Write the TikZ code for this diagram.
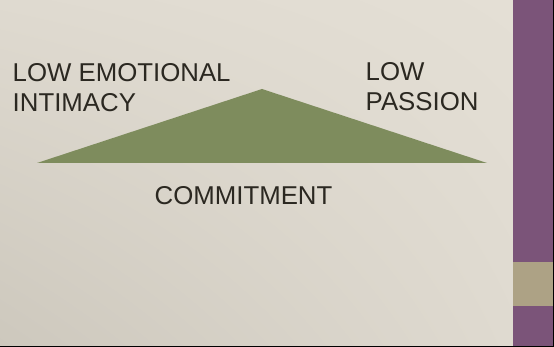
\documentclass[tikz,border=0pt]{standalone}
\usepackage{fontspec}
\setmainfont{Liberation Sans}
\usetikzlibrary{shadings}
\definecolor{bglight}{HTML}{E4DFD5}
\definecolor{bgmid}{HTML}{DFDAD0}
\definecolor{bgdark}{HTML}{CDC8BD}
\definecolor{textc}{HTML}{2B2821}
\definecolor{greenc}{HTML}{7E8C5D}
\definecolor{purplec}{HTML}{7B5479}
\definecolor{tanc}{HTML}{ADA285}
\begin{document}
\begin{tikzpicture}[x=1pt,y=1pt,
  lbl/.style={inner sep=0, text=textc, font=\fontsize{25.8}{30}\selectfont, align=left, anchor=north west}]
\useasboundingbox (0,0) rectangle (554,347);
\shade[lower left=bgdark, upper right=bglight, lower right=bgmid, upper left=bgmid] (0,0) rectangle (513,347);
\fill[purplec] (513,0) rectangle (554,347);
\fill[tanc] (513,41.3) rectangle (554,85);
\fill[black] (0,0) rectangle (554,1.3);
\fill[black] (553,0) rectangle (554,347);
\coordinate (tl) at (37,184);
\coordinate (tt) at (262,258);
\coordinate (tr) at (487,184);
\fill[greenc] (tl) -- (tt) -- (tr) -- cycle;
\node[lbl] (intimacy) at (12.5,283.5) {LOW EMOTIONAL\\INTIMACY};
\node[lbl] (passion) at (365.5,284.5) {LOW\\PASSION};
\node[lbl, anchor=north] (commit) at (243.5,160.8) {COMMITMENT};
\end{tikzpicture}
\end{document}
